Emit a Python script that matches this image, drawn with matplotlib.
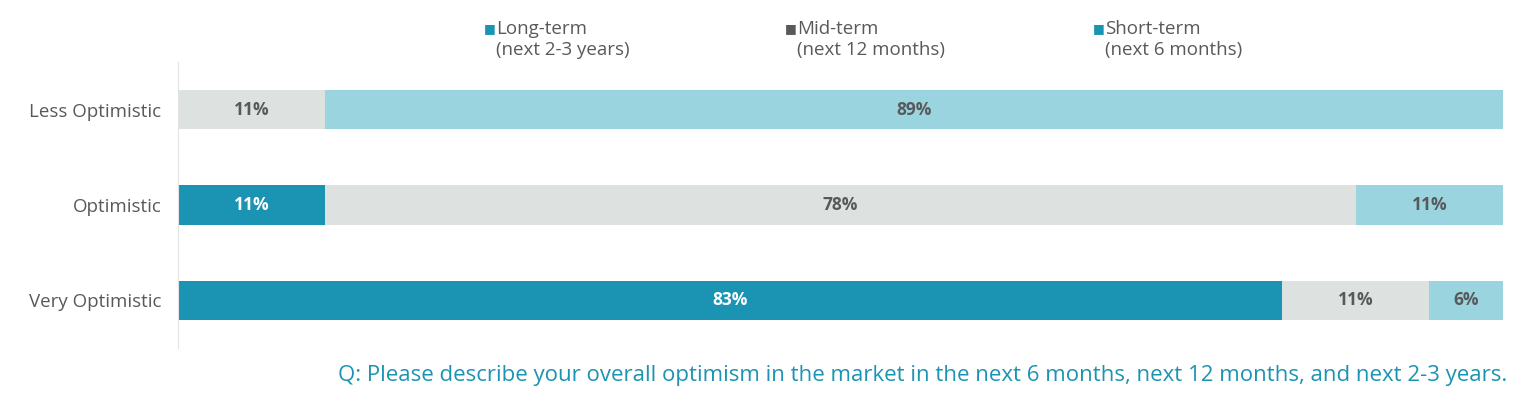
import matplotlib
matplotlib.use('Agg')
import matplotlib.pyplot as plt
import numpy as np

# data
categories = ['Less Optimistic', 'Optimistic', 'Very Optimistic']
long_term = [0.0, 11.1, 83.3]
mid_term = [11.1, 77.8, 11.1]
short_term = [88.9, 11.1, 5.6]
series_names = ['Long-term\n(next 2-3 years)', 'Mid-term\n(next 12 months)', 'Short-term\n(next 6 months)']
question = 'Q: Please describe your overall optimism in the market in the next 6 months, next 12 months, and next 2-3 years.'

bar_colors = ['#1b94b3', '#dde1e0', '#9ad5df']
legend_colors = ['#1b94b3', '#58595b', '#1b94b3']
label_colors = ['white', '#58595b', '#58595b']
text_gray = '#58595b'

plt.rcParams['font.family'] = ['Open Sans', 'DejaVu Sans']

fig = plt.figure(figsize=(15.27, 4.08), dpi=100)
ax = fig.add_axes([178/1527, 1-348/408, (1503-178)/1527, (348-62)/408])

y = np.arange(len(categories))
left = np.zeros(len(categories))
for vals, col, lcol in zip([long_term, mid_term, short_term], bar_colors, label_colors):
    vals = np.array(vals)
    ax.barh(y, vals, left=left, height=0.41, color=col)
    for yi, v, l in zip(y, vals, left):
        if v > 0:
            ax.text(l + v/2, yi, f'{round(v):d}%', ha='center', va='center',
                    color=lcol, fontsize=12.5, fontweight='bold')
    left += vals

ax.set_xlim(0, 100)
ax.set_ylim(2.5, -0.5)
ax.set_yticks(y)
ax.set_yticklabels(categories, fontsize=13.5, color=text_gray)
ax.tick_params(axis='y', length=0, pad=12)
ax.set_xticks([])
for s in ['top', 'right', 'bottom']:
    ax.spines[s].set_visible(False)
ax.spines['left'].set_color('#e3e3e3')

# legend drawn as text
for xpos, name, col in zip([484, 785, 1093], series_names, legend_colors):
    fig.text(xpos/1527, 1-29/408, '■', color=col, fontsize=9, va='center', ha='left',
             family='DejaVu Sans')
    first, second = name.split('\n')
    fig.text((xpos+12)/1527, 1-29/408, first, color=text_gray, fontsize=13.5, va='center', ha='left')
    fig.text((xpos+12)/1527, 1-50/408, second, color=text_gray, fontsize=13.5, va='center', ha='left')

fig.text(1507/1527, 1-376/408, question, color='#1b94b3', fontsize=16, ha='right', va='center')

fig.savefig('out.png', dpi=100)
